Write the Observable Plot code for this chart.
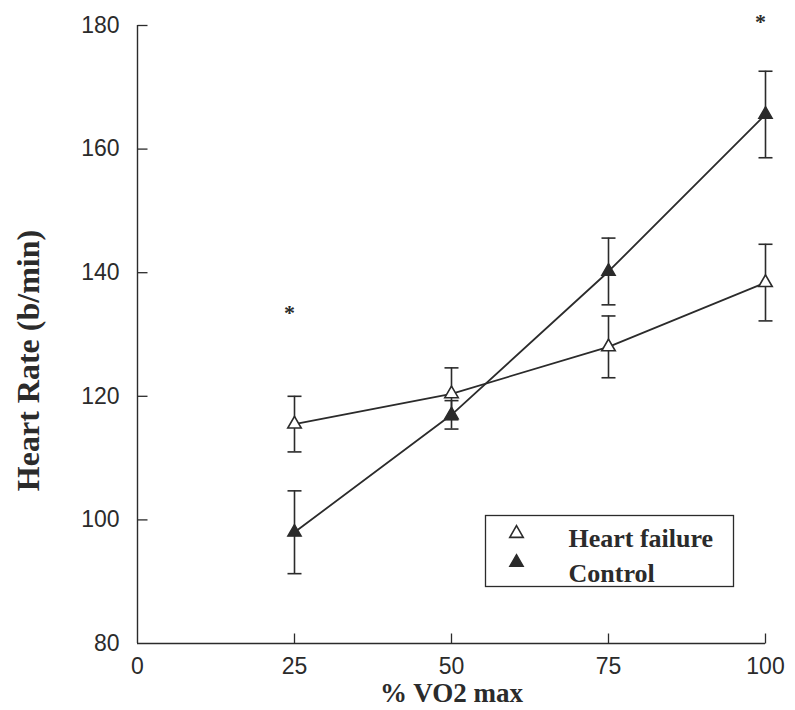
<!DOCTYPE html>
<html><head><meta charset="utf-8">
<script src="https://cdn.jsdelivr.net/npm/d3@7"></script>
<script src="https://cdn.jsdelivr.net/npm/@observablehq/plot@0.6"></script>
<style>body{margin:0;background:#fff}</style>
</head><body><div id="chart"></div>
<script>
const xPct = [25, 50, 75, 100];
const hfMean = [115.5, 120.4, 128, 138.4];
const hfErr = [4.5, 4.2, 5, 6.2];
const ctlMean = [98, 117, 140.2, 165.6];
const ctlErr = [6.7, 2.3, 5.4, 7];
const sigX = [25, 100];
const sigY = [134, 181];
const xTicks = [0, 25, 50, 75, 100];
const yTicks = [80, 100, 120, 140, 160, 180];
const seriesNames = ["Heart failure", "Control"];
const xLabel = "% VO2 max";
const yLabel = "Heart Rate (b/min)";

const ink = "#2b2b2b";
const hf = xPct.map((x, i) => ({series: seriesNames[0], x, y: hfMean[i], e: hfErr[i]}));
const ctl = xPct.map((x, i) => ({series: seriesNames[1], x, y: ctlMean[i], e: ctlErr[i]}));
const rows = hf.concat(ctl);
const stars = sigX.map((x, i) => ({x, y: sigY[i]}));

const cap = {draw(ctx, size) { const w = Math.sqrt(size / Math.PI); ctx.moveTo(-w, 0); ctx.lineTo(w, 0); }};
const tickRight = {draw(ctx, size) { const w = Math.sqrt(size / Math.PI); ctx.moveTo(0, 0); ctx.lineTo(w, 0); }};
const tickUp = {draw(ctx, size) { const w = Math.sqrt(size / Math.PI); ctx.moveTo(0, 0); ctx.lineTo(0, -w); }};
const serif = "'Liberation Serif', 'Times New Roman', serif";
const sans = "'Liberation Sans', Arial, sans-serif";

const chart = Plot.plot({
  width: 795, height: 710,
  marginLeft: 137, marginRight: 30, marginTop: 25, marginBottom: 67,
  style: {fontFamily: sans, color: ink, background: "white"},
  x: {domain: [0, 100], label: null},
  y: {domain: [80, 180], label: null},
  marks: [
    Plot.ruleY([80], {stroke: ink, strokeWidth: 1.4}),
    Plot.ruleX([0], {stroke: ink, strokeWidth: 1.4}),
    Plot.dot(xTicks.slice(1), {x: d => d, y: () => 80, symbol: tickUp, r: 10, stroke: ink, strokeWidth: 1.3}),
    Plot.dot(yTicks.slice(1), {x: () => 0, y: d => d, symbol: tickRight, r: 10, stroke: ink, strokeWidth: 1.3}),
    Plot.axisX({ticks: xTicks, tickSize: 0, tickPadding: 14, fontSize: 23, label: null}),
    Plot.axisY({ticks: yTicks, tickSize: 0, tickPadding: 18, fontSize: 23, label: null}),
    Plot.text([xLabel], {frameAnchor: "bottom", dy: 50, lineAnchor: "middle", fontFamily: serif, fontWeight: "bold", fontSize: 27, fill: ink}),
    Plot.text([yLabel], {frameAnchor: "left", dx: -109, dy: 26, rotate: -90, textAnchor: "middle", lineAnchor: "middle", fontFamily: serif, fontWeight: "bold", fontSize: 32, fill: ink}),
    Plot.ruleX(rows, {x: "x", y1: d => d.y - d.e, y2: d => d.y + d.e, stroke: ink, strokeWidth: 1.6}),
    Plot.dot(rows, {x: "x", y: d => d.y - d.e, symbol: cap, r: 7, stroke: ink, strokeWidth: 1.6}),
    Plot.dot(rows, {x: "x", y: d => d.y + d.e, symbol: cap, r: 7, stroke: ink, strokeWidth: 1.6}),
    Plot.line(rows, {x: "x", y: "y", z: "series", stroke: ink, strokeWidth: 1.8}),
    Plot.dot(ctl, {x: "x", y: "y", symbol: "triangle", r: 5, fill: ink, stroke: ink, strokeWidth: 1.4}),
    Plot.dot(hf, {x: "x", y: "y", symbol: "triangle", r: 5, fill: "white", stroke: ink, strokeWidth: 1.6}),
    Plot.text(stars, {x: "x", y: "y", text: () => "*", dx: -5, dy: 3, fontFamily: serif, fontWeight: "bold", fontSize: 22, fill: ink}),
    Plot.frame({insetLeft: 348, insetRight: 32, insetTop: 490, insetBottom: 57, stroke: ink, strokeWidth: 1.3}),
    Plot.dot([seriesNames[0]], {frameAnchor: "top-left", dx: 379, dy: 508, symbol: "triangle", r: 5, fill: "white", stroke: ink, strokeWidth: 1.6}),
    Plot.dot([seriesNames[1]], {frameAnchor: "top-left", dx: 379, dy: 537, symbol: "triangle", r: 5, fill: ink, stroke: ink, strokeWidth: 1.4}),
    Plot.text([seriesNames[0]], {frameAnchor: "top-left", dx: 431, dy: 513, lineAnchor: "middle", textAnchor: "start", text: d => d, fontFamily: serif, fontWeight: "bold", fontSize: 26, fill: ink}),
    Plot.text([seriesNames[1]], {frameAnchor: "top-left", dx: 431, dy: 548, lineAnchor: "middle", textAnchor: "start", text: d => d, fontFamily: serif, fontWeight: "bold", fontSize: 26, fill: ink})
  ]
});
document.getElementById("chart").append(chart);
</script>
</body></html>
